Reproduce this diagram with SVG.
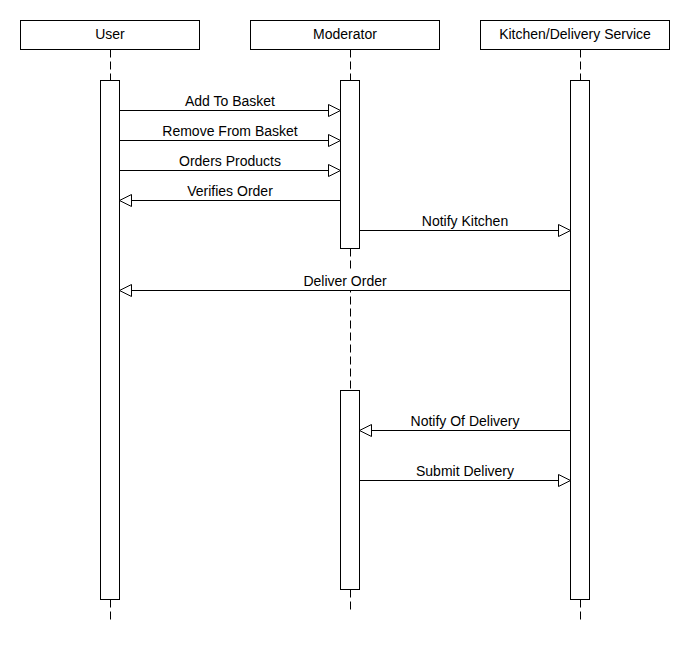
<svg xmlns="http://www.w3.org/2000/svg" width="690" height="660" viewBox="0 0 690 660">
  <style>
    .box { fill: #ffffff; stroke: #000000; stroke-width: 1; }
    .bar { fill: #ffffff; stroke: #000000; stroke-width: 1; }
    .life { stroke: #000000; stroke-width: 1; stroke-dasharray: 8 4; fill: none; }
    .msg { stroke: #000000; stroke-width: 1; fill: none; marker-end: url(#open); }
    .label-bg { fill: #ffffff; stroke: none; }
    text { font-family: "Liberation Sans", Arial, sans-serif; font-size: 14px; fill: #000000; text-anchor: middle; }
  </style>
  <defs>
    <marker id="open" markerUnits="userSpaceOnUse" markerWidth="14" markerHeight="14" refX="12" refY="6" orient="auto" overflow="visible">
      <path d="M0,0 L12,6 L0,12 Z" fill="#ffffff" stroke="#000000" stroke-width="1"/>
    </marker>
  </defs>
  <rect width="690" height="660" fill="#ffffff"/>

  <!-- lifelines -->
  <g id="lifelines">
    <line class="life" x1="110.5" y1="49.5" x2="110.5" y2="80.5"/>
    <line class="life" x1="110.5" y1="599.5" x2="110.5" y2="621"/>
    <line class="life" x1="350.5" y1="49.5" x2="350.5" y2="80.5"/>
    <line class="life" x1="350.5" y1="248.5" x2="350.5" y2="390.5"/>
    <line class="life" x1="350.5" y1="589.5" x2="350.5" y2="611"/>
    <line class="life" x1="580.5" y1="49.5" x2="580.5" y2="80.5"/>
    <line class="life" x1="580.5" y1="599.5" x2="580.5" y2="621"/>
  </g>

  <!-- participants -->
  <g id="user">
    <rect class="box" x="20.5" y="20.5" width="179" height="29"/>
    <text x="110" y="38.5">User</text>
    <rect class="bar" x="100.5" y="80.5" width="19" height="519"/>
  </g>
  <g id="moderator">
    <rect class="box" x="250.5" y="20.5" width="189" height="29"/>
    <text x="345" y="38.5">Moderator</text>
    <rect class="bar" x="340.5" y="80.5" width="19" height="168"/>
    <rect class="bar" x="340.5" y="390.5" width="19" height="199"/>
  </g>
  <g id="kitchen">
    <rect class="box" x="480.5" y="20.5" width="189" height="29"/>
    <text x="575" y="38.5">Kitchen/Delivery Service</text>
    <rect class="bar" x="570.5" y="80.5" width="19" height="519"/>
  </g>

  <!-- messages -->
  <g id="connectors">
    <line class="msg" x1="119.5" y1="110.5" x2="340.5" y2="110.5"/>
    <text x="230" y="106">Add To Basket</text>
    <line class="msg" x1="119.5" y1="140.5" x2="340.5" y2="140.5"/>
    <text x="230" y="136">Remove From Basket</text>
    <line class="msg" x1="119.5" y1="170.5" x2="340.5" y2="170.5"/>
    <text x="230" y="166">Orders Products</text>
    <line class="msg" x1="340.5" y1="200.5" x2="119.5" y2="200.5"/>
    <text x="230" y="196">Verifies Order</text>
    <line class="msg" x1="359.5" y1="230.5" x2="570.5" y2="230.5"/>
    <text x="465" y="226">Notify Kitchen</text>
    <line class="msg" x1="570.5" y1="290.5" x2="119.5" y2="290.5"/>
    <rect class="label-bg" x="301" y="271" width="88" height="19"/>
    <text x="345" y="286">Deliver Order</text>
    <line class="msg" x1="570.5" y1="430.5" x2="359.5" y2="430.5"/>
    <text x="465" y="426">Notify Of Delivery</text>
    <line class="msg" x1="359.5" y1="480.5" x2="570.5" y2="480.5"/>
    <text x="465" y="476">Submit Delivery</text>
  </g>
</svg>
